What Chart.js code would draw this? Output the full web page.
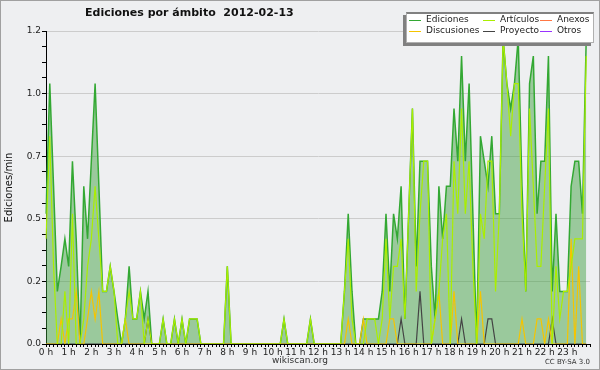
<!DOCTYPE html>
<html>
<head>
<meta charset="utf-8">
<script src="https://cdn.jsdelivr.net/npm/chart.js@4.4.1/dist/chart.umd.min.js"></script>
<style>
  body { margin: 0; background: #eeeff1; font-family: "DejaVu Sans", sans-serif; }
  #wrap { position: relative; width: 600px; height: 370px; }
  #frame { position: absolute; left: 0; top: 0; width: 600px; height: 370px; box-sizing: border-box; border: 1px solid #a0a0a0; pointer-events: none; }
  #title { position: absolute; left: 85px; top: 6px; font: bold 11px "DejaVu Sans"; color: #111; white-space: pre; }
  #legend { position: absolute; left: 406px; top: 12px; width: 186px; height: 28px; background: #fff; border: 1px solid #b0b0b0; border-top: 2px solid #808080; box-shadow: -3px 3px 0 #808080; }
  .lg-line { position: absolute; height: 1px; width: 12px; }
  .lg-text { position: absolute; font: 9px "DejaVu Sans"; color: #222; line-height: 10px; white-space: nowrap; }
  #site { position: absolute; left: 0; width: 600px; top: 355px; text-align: center; font: 9px "DejaVu Sans"; color: #333; }
  #lic { position: absolute; right: 10px; top: 358px; font: 7px "DejaVu Sans"; color: #333; }
</style>
</head>
<body>
<div id="wrap">
  <canvas id="chart" width="600" height="370"></canvas>
  <div id="title">Ediciones por ámbito  2012-02-13</div>
  <div id="legend"></div>
  <div id="site">wikiscan.org</div>
  <div id="lic">CC BY-SA 3.0</div>
  <div id="frame"></div>
</div>
<script>
// one value every 10 minutes, edits per minute, one row per hour
const ediciones = [
  0.52,1.04,0.63,0.21,0.31,0.42,
  0.31,0.73,0.42,0,0.63,0.42,
  0.73,1.04,0.63,0.21,0.21,0.31,
  0.21,0.10,0,0.10,0.31,0.10,
  0.10,0.21,0.10,0.21,0,0,
  0,0.10,0,0,0.10,0,
  0.10,0,0.10,0.10,0.10,0,
  0,0,0,0,0,0,
  0.31,0,0,0,0,0,
  0,0,0,0,0,0,
  0,0,0,0.10,0,0,
  0,0,0,0,0.10,0,
  0,0,0,0,0,0,
  0,0.21,0.52,0.21,0,0,
  0.10,0.10,0.10,0.10,0.10,0.21,
  0.52,0.21,0.52,0.42,0.63,0.10,
  0.52,0.94,0.31,0.73,0.73,0.73,
  0.31,0.10,0.63,0.42,0.63,0.63,
  0.94,0.73,1.15,0.73,1.04,0.52,
  0,0.83,0.73,0.63,0.83,0.52,
  0.52,1.22,1.04,0.94,1.04,1.22,
  0.63,0.21,1.04,1.15,0.52,0.73,
  0.73,1.15,0.21,0.52,0.21,0.21,
  0.21,0.63,0.73,0.73,0.52,1.22
];
const articulos = [
  0.42,0.83,0.31,0,0,0.21,
  0,0.52,0,0,0.10,0.31,
  0.42,0.63,0.42,0.21,0.21,0.31,
  0.21,0,0,0.10,0.21,0.10,
  0.10,0.21,0,0.10,0,0,
  0,0.10,0,0,0.10,0,
  0.10,0,0.10,0.10,0.10,0,
  0,0,0,0,0,0,
  0.31,0,0,0,0,0,
  0,0,0,0,0,0,
  0,0,0,0.10,0,0,
  0,0,0,0,0.10,0,
  0,0,0,0,0,0,
  0,0.21,0.42,0.10,0,0,
  0,0.10,0.10,0.10,0,0.10,
  0.42,0.10,0.31,0.31,0.42,0.10,
  0.52,0.94,0.21,0.52,0.73,0.73,
  0,0.10,0.21,0.42,0.52,0,
  0.73,0.52,0.94,0.52,0.73,0.31,
  0,0.52,0.42,0.73,0.73,0.21,
  0.52,1.22,1.04,0.83,1.04,1.04,
  0.52,0.21,0.94,0.63,0.31,0.31,
  0.63,0.94,0,0.31,0.10,0.21,
  0.21,0.31,0.42,0.42,0.42,1.15
];
const discusiones = [
  0,0,0,0,0.10,0,
  0.10,0.10,0.21,0,0,0.10,
  0.21,0.10,0.21,0,0,0,
  0,0,0,0.10,0,0,
  0,0,0,0,0,0,
  0,0,0,0,0,0,
  0,0,0,0,0,0,
  0,0,0,0,0,0,
  0,0,0,0,0,0,
  0,0,0,0,0,0,
  0,0,0,0,0,0,
  0,0,0,0,0,0,
  0,0,0,0,0,0,
  0,0,0.10,0,0,0,
  0.10,0,0,0,0,0,
  0,0.10,0.10,0,0,0,
  0,0,0,0,0,0,
  0,0.10,0.21,0,0,0,
  0.21,0,0,0,0,0,
  0,0.21,0,0,0,0,
  0,0,0,0,0,0,
  0.10,0,0,0,0.10,0.10,
  0,0.10,0,0,0,0,
  0,0.42,0,0.31,0,0
];
const proyecto = [
  0,0,0,0,0,0,
  0,0,0,0,0,0,
  0,0,0,0,0,0,
  0,0,0,0,0,0,
  0,0,0,0.10,0,0,
  0,0,0,0,0,0,
  0,0,0,0,0,0,
  0,0,0,0,0,0,
  0,0,0,0,0,0,
  0,0,0,0,0,0,
  0,0,0,0,0,0,
  0,0,0,0,0,0,
  0,0,0,0,0,0,
  0,0,0,0,0,0,
  0,0,0,0,0,0,
  0,0,0,0,0.10,0,
  0,0,0,0.21,0,0,
  0,0,0,0,0,0,
  0,0,0.10,0,0,0,
  0,0,0,0.10,0.10,0,
  0,0,0,0,0,0,
  0,0,0,0,0,0,
  0,0,0.10,0,0,0,
  0,0,0,0,0,0
];
const anexos = [];
const otros = [];

const hourLabels = ['0 h','1 h','2 h','3 h','4 h','5 h','6 h','7 h','8 h','9 h','10 h','11 h',
  '12 h','13 h','14 h','15 h','16 h','17 h','18 h','19 h','20 h','21 h','22 h','23 h'];
const yTickLabels = ['0.0','0.2','0.5','0.7','1.0','1.2'];

// 10 minute slots from 0:00 to 24:00
const slots = [];
for (let h = 0; h <= 24; h++) {
  for (let m = 0; m < 60; m += 10) {
    if (h === 24 && m > 0) break;
    slots.push(h + ':' + String(m).padStart(2, '0'));
  }
}

const series = [
  { label: 'Ediciones', data: ediciones, color: '#33a833' },
  { label: 'Artículos', data: articulos, color: '#aaee00' },
  { label: 'Anexos', data: anexos, color: '#ff7744' },
  { label: 'Discusiones', data: discusiones, color: '#f5c400' },
  { label: 'Proyecto', data: proyecto, color: '#444444' },
  { label: 'Otros', data: otros, color: '#9933ff' }
];

const isMajor = v => Math.abs(v / 0.25 - Math.round(v / 0.25)) < 1e-9;

new Chart(document.getElementById('chart'), {
  type: 'line',
  data: {
    labels: slots,
    datasets: series.map(s => ({
      label: s.label,
      data: s.data,
      borderColor: s.color,
      borderWidth: s.label === 'Ediciones' ? 1.5 : 1.2,
      backgroundColor: s.label === 'Ediciones' ? 'rgba(60,160,60,0.47)' : s.color,
      fill: s.label === 'Ediciones' ? 'origin' : false,
      pointRadius: 0,
      tension: 0,
      order: s.label === 'Ediciones' ? 1 : 0
    }))
  },
  options: {
    responsive: false,
    animation: false,
    devicePixelRatio: 1,
    layout: { padding: { top: 31, right: 10, bottom: 0, left: 0 } },
    plugins: { legend: { display: false }, tooltip: { enabled: false } },
    scales: {
      x: {
        type: 'category',
        offset: false,
        afterFit: s => { s.height = 26; },
        border: { color: '#000', width: 1 },
        grid: { drawOnChartArea: false, drawTicks: true, tickLength: 3, tickColor: '#000' },
        ticks: {
          autoSkip: false, maxRotation: 0, minRotation: 0, padding: 0,
          color: '#222', font: { family: 'DejaVu Sans', size: 9 },
          callback: (v, i) => (i % 6 === 0 && i < 144) ? hourLabels[i / 6] : ''
        }
      },
      y: {
        min: 0, max: 1.25,
        afterFit: s => { s.width = 46; },
        border: { color: '#000', width: 1 },
        grid: {
          color: ctx => (ctx.tick && isMajor(ctx.tick.value)) ? '#cccccc' : 'rgba(0,0,0,0)',
          tickColor: '#000', tickLength: 4
        },
        ticks: {
          stepSize: 0.0625, padding: 1, color: '#222',
          font: { family: 'DejaVu Sans', size: 9 },
          callback: v => isMajor(v) ? yTickLabels[Math.round(v / 0.25)] : ''
        },
        title: {
          display: true, text: 'Ediciones/min', color: '#111',
          font: { family: 'DejaVu Sans', size: 10 }, padding: { top: 3, bottom: 0 }
        }
      }
    }
  }
});

// legend: three columns, two rows
const legend = document.getElementById('legend');
const colX = [2, 76, 133];
const rowY = [5, 16];
const order = ['Ediciones', 'Artículos', 'Anexos', 'Discusiones', 'Proyecto', 'Otros'];
order.forEach((name, k) => {
  const s = series.find(x => x.label === name);
  const cx = colX[k % 3], cy = rowY[Math.floor(k / 3)];
  const ln = document.createElement('div');
  ln.className = 'lg-line';
  ln.style.left = cx + 'px';
  ln.style.top = (cy + 1) + 'px';
  ln.style.background = s.color;
  legend.appendChild(ln);
  const tx = document.createElement('div');
  tx.className = 'lg-text';
  tx.style.left = (cx + 17) + 'px';
  tx.style.top = (cy - 5) + 'px';
  tx.textContent = name;
  legend.appendChild(tx);
});
</script>
</body>
</html>
